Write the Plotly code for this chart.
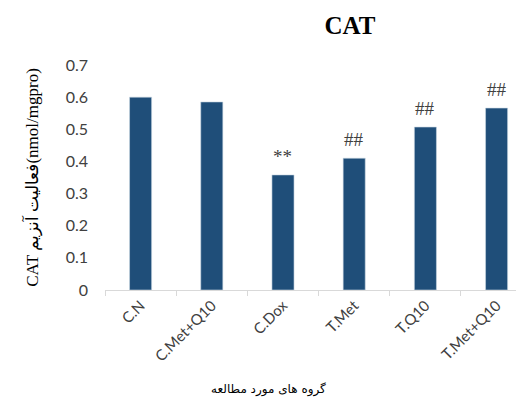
import plotly.graph_objs as go

# Colors
BAR_BLUE = "#1F4E79"
AXIS_GREY = "#D9D9D9"
TEXT_GREY = "#404040"

groups = ["C.N", "C.Met+Q10", "C.Dox", "T.Met", "T.Q10", "T.Met+Q10"]
cat_values = [0.60, 0.585, 0.358, 0.41, 0.507, 0.566]
marks = ["", "", "**", "##", "##", "##"]
y_ticks = [0, 0.1, 0.2, 0.3, 0.4, 0.5, 0.6, 0.7]
y_tick_text = ["0", "0.1", "0.2", "0.3", "0.4", "0.5", "0.6", "0.7"]

# page body has an 8px margin, so the figure is laid out 8px up/left
OFF = 8

fig = go.Figure(layout={
    'plot_bgcolor': 'white',
    'paper_bgcolor': 'white',
})

fig.add_trace(go.Bar(
    x=groups,
    y=cat_values,
    width=0.31,
    marker={'color': BAR_BLUE, 'line': {'color': '#C9D6E3', 'width': 0.6}},
    showlegend=False,
))

# significance marks above bars
for g, v, m in zip(groups, cat_values, marks):
    if m:
        fig.add_annotation(x=g, y=v, text=m, showarrow=False,
                           yanchor='bottom', yshift=6,
                           font={'family': 'Liberation Serif', 'size': 19, 'color': TEXT_GREY})

# x axis title (not centred on plot in the original)
fig.add_annotation(x=(268 - 105) / 419, y=-(389 - 290) / 225, xref='paper', yref='paper',
                   text="گروه های مورد مطالعه", showarrow=False, yanchor='middle',
                   font={'family': 'DejaVu Sans', 'size': 12, 'color': 'black'})

fig.update_layout(
    width=524, height=401,
    margin={'l': 105 - OFF, 'r': OFF, 't': 65 - OFF, 'b': 111 + OFF},
    title={'text': '<b>CAT</b>', 'x': (350 - OFF) / 524, 'xanchor': 'center',
           'y': 1 - (25 - OFF) / 401, 'yanchor': 'middle',
           'font': {'family': 'Liberation Serif', 'size': 25, 'color': 'black'}},
    bargap=0.69,
)

fig.update_xaxes(
    range=[-0.5, 5.385],
    showline=True, linecolor=AXIS_GREY, linewidth=1,
    ticks='outside', tickson='boundaries', ticklen=5, tickcolor=AXIS_GREY,
    tickangle=-45,
    tickfont={'family': 'Lato', 'size': 15, 'color': TEXT_GREY},
    showgrid=False,
)

fig.update_yaxes(
    range=[0, 0.7],
    tickvals=y_ticks, ticktext=y_tick_text,
    showgrid=False, showline=False, zeroline=False,
    ticks='', ticklabelstandoff=16,
    tickfont={'family': 'Lato', 'size': 16, 'color': TEXT_GREY},
    title={'text': 'CAT فعالیت آنزیم(nmol/mgpro)', 'standoff': 22,
           'font': {'family': 'Liberation Serif', 'size': 17, 'color': 'black'}},
)

fig.write_html("out.html")
